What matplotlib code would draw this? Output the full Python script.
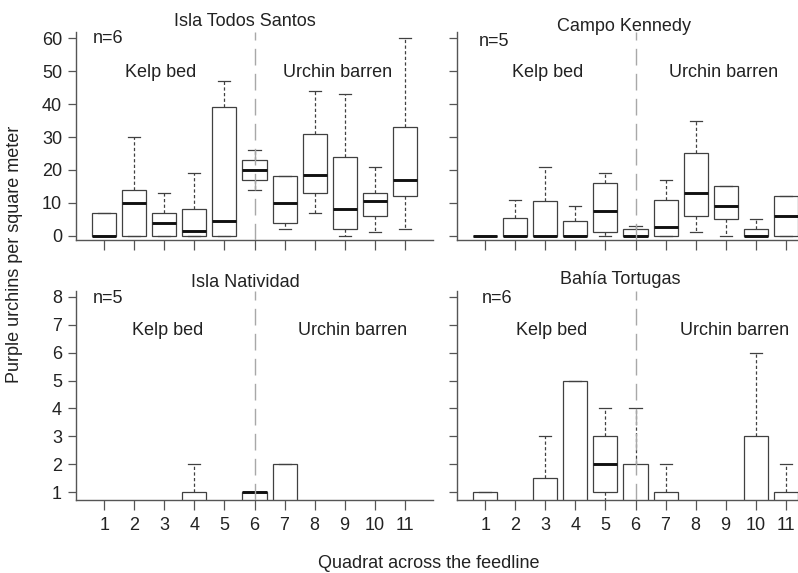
import matplotlib
matplotlib.use("Agg")
import matplotlib.pyplot as plt
import matplotlib.transforms as mtransforms

plt.rcParams['font.family'] = ['Liberation Sans', 'DejaVu Sans']

quadrats = list(range(1, 12))

# box stats per quadrat: lower whisker, q1, median, q3, upper whisker
# Isla Todos Santos
its_lo = [0, 0, 0, 0, 0, 14, 2, 7, 0, 1, 2]
its_q1 = [0, 0, 0, 0, 0, 17, 4, 13, 2, 6, 12]
its_med = [0, 10, 4, 1.5, 4.5, 20, 10, 18.5, 8, 10.5, 17]
its_q3 = [7, 14, 7, 8, 39, 23, 18, 31, 24, 13, 33]
its_hi = [7, 30, 13, 19, 47, 26, 18, 44, 43, 21, 60]

# Campo Kennedy
ck_lo = [0, 0, 0, 0, 0, 0, 0, 1, 0, 0, 0]
ck_q1 = [0, 0, 0, 0, 1, 0, 0, 6, 5, 0, 0]
ck_med = [0, 0, 0, 0, 7.5, 0, 2.5, 13, 9, 0, 6]
ck_q3 = [0, 5.5, 10.5, 4.5, 16, 2, 11, 25, 15, 2, 12]
ck_hi = [0, 11, 21, 9, 19, 3, 17, 35, 15, 5, 12]

# Isla Natividad
in_lo = [0, 0, 0, 0, 0, 0, 0, 0, 0, 0, 0]
in_q1 = [0, 0, 0, 0, 0, 0, 0, 0, 0, 0, 0]
in_med = [0, 0, 0, 0, 0, 1, 0, 0, 0, 0, 0]
in_q3 = [0, 0, 0, 1, 0, 1, 2, 0, 0, 0, 0]
in_hi = [0, 0, 0, 2, 0, 1, 2, 0, 0, 0, 0]

# Bahia Tortugas
bt_lo = [0, 0, 0, 0, 0, 0, 0, 0, 0, 0, 0]
bt_q1 = [0, 0, 0, 0, 1, 0, 0, 0, 0, 0, 0]
bt_med = [0, 0, 0, 0, 2, 0, 0, 0, 0, 0, 0]
bt_q3 = [1, 0, 1.5, 5, 3, 2, 1, 0, 0, 3, 1]
bt_hi = [1, 0, 3, 5, 4, 4, 2, 0, 0, 6, 2]

panels = [
    ("Isla Todos Santos", "n=6", its_lo, its_q1, its_med, its_q3, its_hi),
    ("Campo Kennedy", "n=5", ck_lo, ck_q1, ck_med, ck_q3, ck_hi),
    ("Isla Natividad", "n=5", in_lo, in_q1, in_med, in_q3, in_hi),
    ("Bahía Tortugas", "n=6", bt_lo, bt_q1, bt_med, bt_q3, bt_hi),
]

top_ticks = [0, 10, 20, 30, 40, 50, 60]
bot_ticks = [1, 2, 3, 4, 5, 6, 7, 8]

# text placement per panel: title x, title y (axes frac), n x, n y, kelp x, urchin x, label y
txt = [
    (5.68, 1.051, 0.62, 59.8, 2.86, 8.77, 49.5),
    (5.62, 1.027, 0.78, 59.0, 3.06, 8.94, 49.6),
    (5.68, 1.045, 0.62, 7.96, 3.1, 9.27, 6.8),
    (5.50, 1.055, 0.90, 7.96, 3.2, 9.3, 6.8),
]

W, H = 798, 573
fig = plt.figure(figsize=(W / 100, H / 100), dpi=100)

# axes rectangles in pixels: left, top, width, height
rects = [(76, 31.7, 357, 208.3), (457, 31.7, 357, 208.3),
         (76, 291.4, 357, 208.6), (457, 291.4, 357, 208.6)]

edge = '#404040'
fs = 13

for i, (name, ntxt, lo, q1, med, q3, hi) in enumerate(panels):
    l, t, w, h = rects[i]
    ax = fig.add_axes([l / W, (H - t - h) / H, w / W, h / H])
    stats = [dict(whislo=lo[k], q1=q1[k], med=med[k], q3=q3[k], whishi=hi[k])
             for k in range(len(quadrats))]
    ax.bxp(stats, positions=quadrats, widths=0.8, showfliers=False,
           patch_artist=True,
           boxprops=dict(facecolor='white', edgecolor=edge, linewidth=0.9),
           medianprops=dict(color='#111111', linewidth=2.1, solid_capstyle='butt'),
           whiskerprops=dict(color=edge, linewidth=0.9, linestyle=(0, (2.6, 1.9))),
           capprops=dict(color=edge, linewidth=0.9), capwidths=0.4)
    ax.axvline(6, color='#a8a8a8', linewidth=1.0, linestyle=(0, (12, 6)), zorder=5)

    ax.set_xlim(0.06, 11.94)
    if i < 2:
        ax.set_ylim(-1.3, 62)
        ax.set_yticks(top_ticks)
    else:
        ax.set_ylim(0.713, 8.2)
        ax.set_yticks(bot_ticks)
    ax.set_xticks(quadrats)
    ax.set_xticklabels([str(q) for q in quadrats] if i >= 2 else [])
    if i % 2 == 1:
        ax.set_yticklabels([])

    for s in ['top', 'right']:
        ax.spines[s].set_visible(False)
    for s in ['left', 'bottom']:
        ax.spines[s].set_color('#555555')
        ax.spines[s].set_linewidth(1.0)
    ax.tick_params(axis='x', direction='out', length=7, width=0.9, color='#555555',
                   labelsize=fs, pad=5, labelcolor='#222222')
    ax.tick_params(axis='y', direction='out', length=6, width=0.9, color='#555555',
                   labelsize=fs, pad=4, labelcolor='#222222')

    tx, ty, nx, ny, kx, ux, ly = txt[i]
    trans = mtransforms.blended_transform_factory(ax.transData, ax.transAxes)
    ax.text(tx, ty, name, transform=trans, ha='center', va='center',
            fontsize=fs, color='#222222', clip_on=False)
    ax.text(nx, ny, ntxt, ha='left', va='center', fontsize=fs, color='#222222')
    ax.text(kx, ly, "Kelp bed", ha='center', va='center', fontsize=fs, color='#222222')
    ax.text(ux, ly, "Urchin barren", ha='center', va='center', fontsize=fs, color='#222222')

fig.text(15 / W, 1 - 254 / H, "Purple urchins per square meter", rotation=90,
         ha='center', va='center', fontsize=fs, color='#222222')
fig.text(429 / W, 1 - 563 / H, "Quadrat across the feedline",
         ha='center', va='center', fontsize=fs, color='#222222')

fig.savefig("out.png", dpi=100)
